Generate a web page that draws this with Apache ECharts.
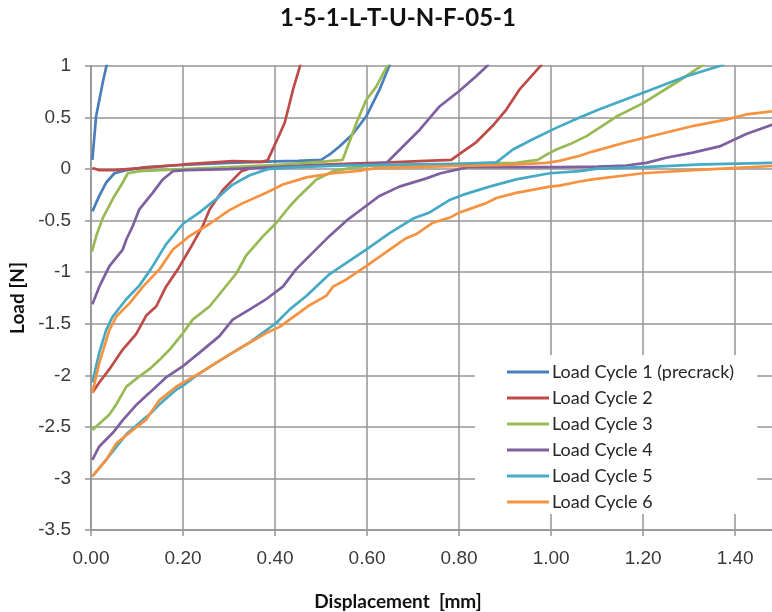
<!DOCTYPE html>
<html>
<head>
<meta charset="utf-8">
<script src="https://cdn.jsdelivr.net/npm/echarts@6/dist/echarts.min.js"></script>
<style>
html,body{margin:0;padding:0;background:#fff;}
#chart{width:772px;height:612px;}
</style>
</head>
<body>
<div id="chart"></div>
<script>
// ---- data ----
var chartTitle = '1-5-1-L-T-U-N-F-05-1';
var xAxisName = 'Displacement  [mm]';
var yAxisName = 'Load [N]';
var seriesNames = ['Load Cycle 1 (precrack)', 'Load Cycle 2', 'Load Cycle 3', 'Load Cycle 4', 'Load Cycle 5', 'Load Cycle 6'];

var cycle1 = [[0.003,0.09],[0.011,0.51],[0.026,0.85],[0.034,1.01],[0.04,1.2],[0.66,1.2],[0.649,1.01],[0.627,0.77],[0.598,0.51],[0.569,0.34],[0.54,0.22],[0.518,0.14],[0.50,0.09],[0.45,0.08],[0.40,0.075],[0.30,0.06],[0.20,0.04],[0.12,0.02],[0.077,-0.01],[0.051,-0.04],[0.033,-0.13],[0.018,-0.26],[0.003,-0.41]];

var cycle2 = [[0.003,0.01],[0.018,-0.01],[0.05,-0.01],[0.105,0.01],[0.2,0.045],[0.308,0.077],[0.37,0.07],[0.384,0.085],[0.405,0.29],[0.421,0.45],[0.439,0.77],[0.455,1.01],[0.46,1.2],[0.99,1.2],[0.979,1.01],[0.931,0.77],[0.903,0.58],[0.873,0.42],[0.837,0.26],[0.805,0.16],[0.783,0.09],[0.714,0.077],[0.65,0.065],[0.55,0.05],[0.45,0.035],[0.40,0.03],[0.355,0.02],[0.327,-0.02],[0.287,-0.20],[0.258,-0.39],[0.243,-0.55],[0.214,-0.78],[0.189,-0.97],[0.163,-1.14],[0.142,-1.33],[0.12,-1.42],[0.098,-1.60],[0.069,-1.75],[0.04,-1.94],[0.018,-2.07],[0.003,-2.17]];

var cycle3 = [[0.002,-0.80],[0.012,-0.64],[0.026,-0.47],[0.051,-0.26],[0.069,-0.13],[0.08,-0.04],[0.105,-0.02],[0.2,0.0],[0.3,0.02],[0.4,0.04],[0.5,0.07],[0.547,0.09],[0.577,0.45],[0.598,0.67],[0.62,0.80],[0.645,1.01],[0.65,1.2],[1.35,1.2],[1.33,1.01],[1.272,0.84],[1.2,0.64],[1.142,0.51],[1.077,0.32],[1.04,0.24],[1.011,0.19],[0.99,0.14],[0.971,0.09],[0.924,0.06],[0.8,0.05],[0.7,0.04],[0.6,0.03],[0.57,0.015],[0.526,-0.02],[0.49,-0.10],[0.453,-0.26],[0.432,-0.36],[0.403,-0.52],[0.374,-0.65],[0.337,-0.84],[0.316,-1.01],[0.287,-1.17],[0.258,-1.33],[0.221,-1.46],[0.2,-1.59],[0.171,-1.75],[0.149,-1.85],[0.127,-1.94],[0.105,-2.01],[0.077,-2.11],[0.055,-2.28],[0.04,-2.38],[0.018,-2.47],[0.003,-2.53]];

var cycle4 = [[0.003,-1.31],[0.018,-1.14],[0.04,-0.94],[0.069,-0.78],[0.077,-0.68],[0.091,-0.55],[0.105,-0.39],[0.134,-0.23],[0.156,-0.10],[0.178,-0.02],[0.207,-0.01],[0.3,0.0],[0.4,0.02],[0.5,0.035],[0.6,0.045],[0.642,0.06],[0.678,0.22],[0.714,0.38],[0.758,0.61],[0.801,0.76],[0.837,0.90],[0.863,1.01],[0.875,1.2],[1.7,1.2],[1.7,0.6],[1.48,0.43],[1.424,0.34],[1.366,0.22],[1.308,0.16],[1.25,0.11],[1.207,0.06],[1.163,0.035],[1.1,0.025],[1.018,0.02],[0.9,0.02],[0.82,0.02],[0.80,0.0],[0.76,-0.04],[0.729,-0.09],[0.67,-0.17],[0.627,-0.26],[0.591,-0.38],[0.555,-0.50],[0.518,-0.65],[0.482,-0.81],[0.446,-0.97],[0.417,-1.14],[0.381,-1.26],[0.345,-1.36],[0.308,-1.46],[0.279,-1.62],[0.236,-1.78],[0.2,-1.91],[0.163,-2.02],[0.127,-2.17],[0.1,-2.28],[0.07,-2.43],[0.047,-2.56],[0.018,-2.69],[0.003,-2.82]];

var cycle5 = [[0.003,-2.07],[0.018,-1.78],[0.033,-1.56],[0.047,-1.43],[0.077,-1.26],[0.105,-1.13],[0.13,-0.97],[0.163,-0.73],[0.2,-0.53],[0.236,-0.42],[0.272,-0.29],[0.308,-0.15],[0.345,-0.06],[0.384,0.0],[0.45,0.02],[0.55,0.035],[0.7,0.045],[0.8,0.05],[0.881,0.065],[0.917,0.19],[0.96,0.29],[1.011,0.40],[1.062,0.50],[1.105,0.58],[1.2,0.74],[1.294,0.90],[1.373,1.01],[1.40,1.2],[1.7,1.2],[1.7,0.07],[1.48,0.06],[1.33,0.045],[1.2,0.02],[1.1,0.005],[1.062,-0.02],[0.997,-0.04],[0.924,-0.10],[0.866,-0.17],[0.808,-0.25],[0.779,-0.30],[0.736,-0.42],[0.70,-0.48],[0.649,-0.62],[0.598,-0.78],[0.555,-0.91],[0.518,-1.02],[0.468,-1.23],[0.432,-1.36],[0.403,-1.49],[0.345,-1.68],[0.308,-1.78],[0.272,-1.88],[0.236,-1.98],[0.2,-2.10],[0.185,-2.14],[0.149,-2.28],[0.127,-2.38],[0.113,-2.43],[0.077,-2.57],[0.04,-2.78],[0.003,-2.98]];

var cycle6 = [[0.003,-2.17],[0.018,-1.88],[0.04,-1.56],[0.055,-1.43],[0.084,-1.30],[0.113,-1.14],[0.149,-0.97],[0.178,-0.78],[0.214,-0.65],[0.258,-0.53],[0.30,-0.40],[0.33,-0.33],[0.381,-0.23],[0.417,-0.15],[0.468,-0.08],[0.526,-0.04],[0.577,-0.02],[0.62,0.01],[0.7,0.02],[0.8,0.03],[0.9,0.04],[0.99,0.06],[1.018,0.08],[1.062,0.13],[1.09,0.17],[1.163,0.26],[1.237,0.34],[1.31,0.42],[1.38,0.48],[1.424,0.53],[1.48,0.56],[1.7,0.7],[1.7,0.05],[1.48,0.03],[1.395,0.01],[1.31,-0.01],[1.2,-0.04],[1.09,-0.10],[1.062,-0.12],[1.018,-0.16],[0.997,-0.17],[0.924,-0.23],[0.881,-0.28],[0.859,-0.33],[0.801,-0.42],[0.78,-0.47],[0.743,-0.52],[0.707,-0.63],[0.685,-0.67],[0.649,-0.78],[0.598,-0.94],[0.555,-1.07],[0.526,-1.14],[0.511,-1.23],[0.475,-1.32],[0.41,-1.53],[0.381,-1.59],[0.33,-1.72],[0.272,-1.88],[0.236,-1.98],[0.185,-2.11],[0.149,-2.24],[0.127,-2.38],[0.12,-2.43],[0.091,-2.53],[0.055,-2.66],[0.033,-2.82],[0.003,-2.98]];

var cycles = [cycle1, cycle2, cycle3, cycle4, cycle5, cycle6];
var colors = ['#4A7EBB', '#BE4B48', '#98B954', '#7D60A0', '#46AAC5', '#F69240'];

var xMin = 0, xMax = 1.48, xStep = 0.2;
var yMin = -3.5, yMax = 1, yStep = 0.5;

// ---- chart ----
var chart = echarts.init(document.getElementById('chart'), null, {renderer: 'canvas'});
var gridColor = '#959595';
var labelFont = 'Liberation Sans';
var textFont = 'Lato';

var series = cycles.map(function (d, i) {
  return {
    name: seriesNames[i],
    type: 'line',
    data: d,
    symbol: 'none',
    clip: true,
    smooth: false,
    lineStyle: {width: 2.7, color: colors[i]},
    itemStyle: {color: colors[i]},
    emphasis: {disabled: true},
    z: 2 + i
  };
});

chart.setOption({
  animation: false,
  backgroundColor: '#ffffff',
  color: colors,
  title: {
    text: chartTitle,
    left: 280,
    top: 6,
    padding: 0,
    textStyle: {fontFamily: textFont, fontWeight: 'bold', fontSize: 24, color: '#111'}
  },
  legend: {
    orient: 'vertical',
    left: 475,
    top: 355,
    padding: [8, 23, 3, 32],
    backgroundColor: '#ffffff',
    itemWidth: 42,
    itemHeight: 16,
    itemGap: 8,
    icon: 'path://M0,7 L42,7 L42,10 L0,10 Z',
    textStyle: {fontFamily: textFont, fontSize: 18, lineHeight: 16, color: '#262626', padding: [0, 0, 0, -2]},
    data: seriesNames,
    z: 10
  },
  grid: {left: 91, top: 66, right: 0, bottom: 82, containLabel: false, outerBoundsMode: 'none'},
  xAxis: {
    type: 'value',
    min: xMin, max: xMax, interval: xStep,
    name: xAxisName,
    nameLocation: 'middle',
    nameGap: 62,
    nameTextStyle: {fontFamily: textFont, fontWeight: 'bold', fontSize: 19, color: '#111', padding: [0, 67, 0, 0]},
    axisLine: {show: true, onZero: false, lineStyle: {color: gridColor, width: 1.5}},
    axisTick: {show: true, inside: false, length: 6, lineStyle: {color: gridColor, width: 1.5}},
    axisLabel: {
      fontFamily: labelFont, fontSize: 19, color: '#3a3a3a', margin: 19,
      showMaxLabel: false,
      formatter: function (v) { return v.toFixed(2); }
    },
    splitLine: {show: true, showMaxLine: false, lineStyle: {color: gridColor, width: 1.5}}
  },
  yAxis: {
    type: 'value',
    min: yMin, max: yMax, interval: yStep,
    name: yAxisName,
    nameLocation: 'middle',
    nameGap: 64,
    nameTextStyle: {fontFamily: textFont, fontWeight: 'bold', fontSize: 19, color: '#111'},
    axisLine: {show: true, onZero: false, lineStyle: {color: gridColor, width: 1.5}},
    axisTick: {show: true, inside: false, length: 6, lineStyle: {color: gridColor, width: 1.5}},
    axisLabel: {fontFamily: labelFont, fontSize: 19, color: '#3a3a3a', margin: 20, padding: [6, 0, 0, 0]},
    splitLine: {show: true, lineStyle: {color: gridColor, width: 1.5}}
  },
  series: series
});
</script>
</body>
</html>
